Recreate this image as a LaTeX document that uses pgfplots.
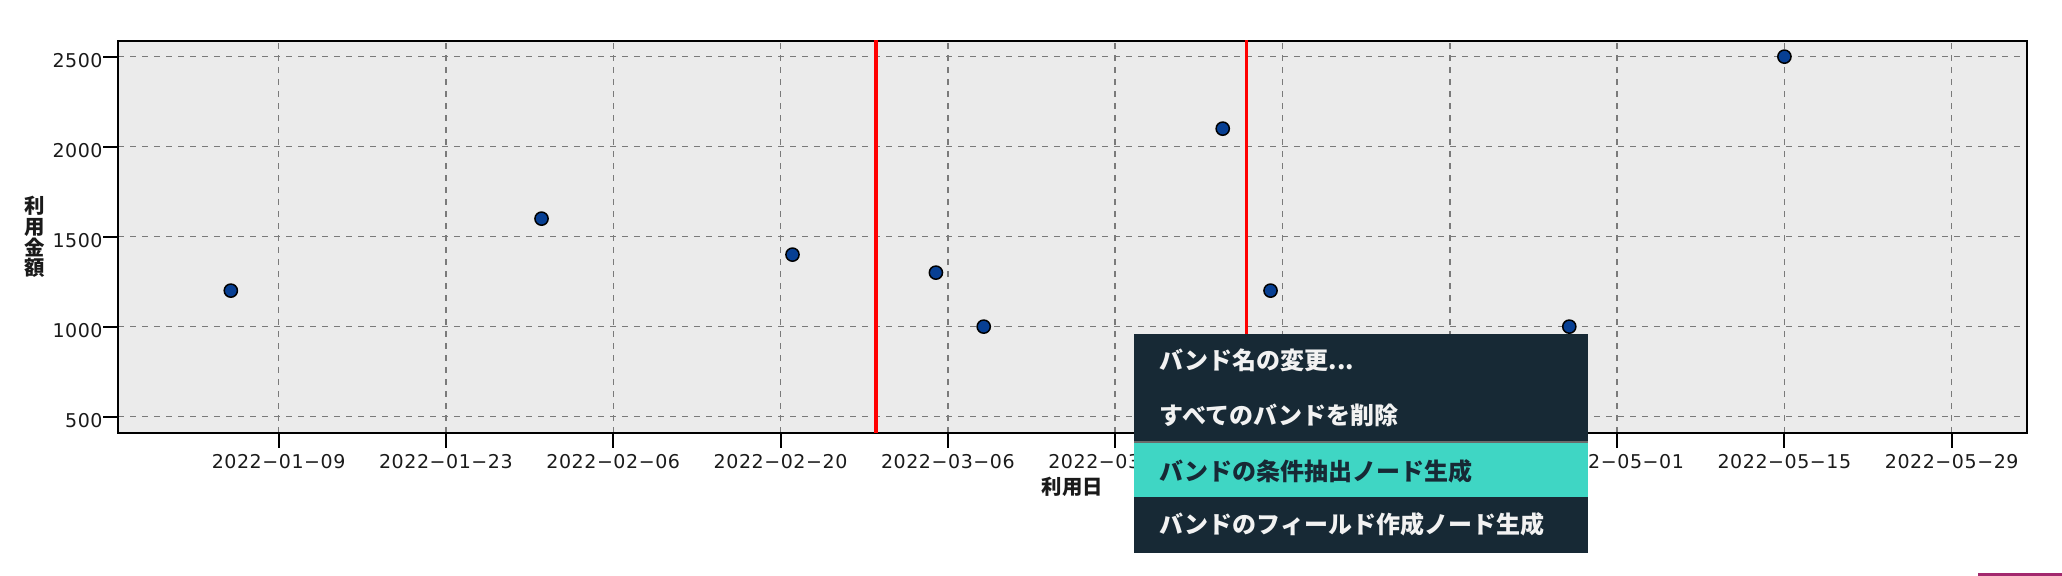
\documentclass[border=0pt]{standalone}
\usepackage{pgfplots}
\pgfplotsset{compat=1.18}
\usepackage{fontspec}
\setmainfont{DejaVu Sans}
\newfontfamily\tickfont[LetterSpace=3]{DejaVu Sans}
\newfontfamily\jp{Noto Sans CJK JP}
\definecolor{bg}{HTML}{EBEBEB}
\definecolor{gridc}{HTML}{7A7A7A}
\definecolor{pt}{HTML}{073F93}
\definecolor{menubg}{HTML}{172935}
\definecolor{menuhl}{HTML}{3FD6C4}
\definecolor{sepc}{HTML}{6B6B6B}
\definecolor{menutx}{HTML}{F2F2F2}
\definecolor{mag}{HTML}{A3286E}
\definecolor{lab}{HTML}{1A1A1A}
\begin{document}
\begin{tikzpicture}
\useasboundingbox (0,0) rectangle (1031bp,288bp);
\begin{axis}[
  at={(59bp,71.5bp)}, anchor=south west,
  scale only axis, width=954.5bp, height=196bp,
  xmin=-5.44, xmax=154.3, ymin=409, ymax=2587,
  axis background/.style={fill=bg},
  axis line style={black, line width=1bp},
  xtick={8,22,36,50,64,78,92,106,120,134,148},
  xticklabels={2022−01−09,2022−01−23,2022−02−06,2022−02−20,2022−03−06,2022−03−20,2022−04−03,2022−04−17,2022−05−01,2022−05−15,2022−05−29},
  ytick={500,1000,1500,2000,2500},
  yticklabels={500,1000,1500,2000,2500},
  tick align=outside, xtick pos=bottom, ytick pos=left,
  major tick length=7.5bp,
  tick style={black, line width=1bp},
  grid=major,
  major grid style={gridc, line width=0.7bp, dash pattern=on 3bp off 3bp},
  ticklabel style={font=\tickfont\fontsize{9.5bp}{11bp}\selectfont, text=lab},
  yticklabel style={inner sep=0pt, anchor=east, yshift=-2bp},
  xticklabel style={inner sep=0pt, anchor=north, yshift=-3bp},
  xlabel={利用日},
  ylabel={利\\用\\金\\額},
  every axis x label/.style={at={(axis description cs:0.5,0)}, anchor=center, yshift=-26.85bp, text=lab, font=\jp\bfseries\fontsize{10.2bp}{10.4bp}\selectfont},
  every axis y label/.style={at={(axis description cs:0,0.5)}, anchor=center, xshift=-41.5bp, align=center, text=lab, font=\jp\bfseries\fontsize{10.2bp}{10.4bp}\selectfont},
]
\addplot[red, line width=1.75bp, forget plot] coordinates {(58,300) (58,2700)};
\addplot[red, line width=1.75bp, forget plot] coordinates {(89,300) (89,2700)};
\addplot[only marks, mark=*, mark size=3.3bp, mark options={fill=pt, draw=black, line width=0.75bp}] coordinates {
  (4,1200) (30,1600) (51,1400) (63,1300) (67,1000) (87,2100) (91,1200) (116,1000) (134,2500)
};
\end{axis}
\fill[menubg] (567bp,11.35bp) rectangle (793.85bp,121bp);
\fill[menuhl] (567bp,39.65bp) rectangle (793.85bp,66.35bp);
\fill[sepc] (567bp,66.35bp) rectangle (793.85bp,67.35bp);
\begin{scope}[every node/.style={anchor=west, inner sep=0pt, font=\jp\bfseries\fontsize{12bp}{14bp}\selectfont}]
\node[text=menutx] at (579.65bp,107.6bp) {バンド名の変更...};
\node[text=menutx] at (579.65bp,80.1bp) {すべてのバンドを削除};
\node[text=menubg] at (579.65bp,52.5bp) {バンドの条件抽出ノード生成};
\node[text=menutx] at (579.65bp,26bp) {バンドのフィールド作成ノード生成};
\end{scope}
\fill[mag] (988.85bp,0) rectangle (1031bp,1.35bp);
\end{tikzpicture}
\end{document}
